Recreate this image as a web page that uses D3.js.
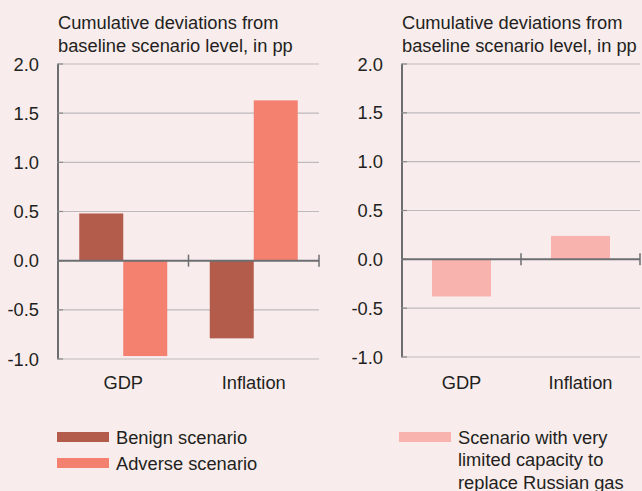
<!DOCTYPE html>
<html><head><meta charset="utf-8">
<script src="https://cdn.jsdelivr.net/npm/d3@7"></script>
<style>html,body{margin:0;padding:0;background:#f8ecec;}svg{display:block;font-family:"Liberation Sans",Arial,sans-serif;}</style>
</head><body>
<svg id="c" width="642" height="491"></svg>
<script>
const categories = ["GDP", "Inflation"];
const benign = [0.48, -0.79];
const adverse = [-0.97, 1.63];
const limitedGas = [-0.38, 0.24];
const yTicks = [-1.0, -0.5, 0.0, 0.5, 1.0, 1.5, 2.0];
const titleLines = ["Cumulative deviations from", "baseline scenario level, in pp"];
const legendLeft = ["Benign scenario", "Adverse scenario"];
const legendRight = ["Scenario with very", "limited capacity to", "replace Russian gas"];
const colors = {benign: "#b35c4c", adverse: "#f4806f", limited: "#f9b3ae"};

const svg = d3.select("#c");
const text = "#231f20";
const fs = 18.3;

function panel(opts) {
  const g = svg.append("g");
  const x = d3.scaleBand().domain(categories).range([opts.x0, opts.x1]);
  const y = d3.scaleLinear().domain([-1, 2]).range([opts.yb, opts.yt]);
  titleLines.forEach((t, i) => g.append("text").attr("x", opts.x0).attr("y", 29 + i * 23)
    .attr("font-size", fs).attr("fill", text).text(t));
  g.selectAll(".grid").data(yTicks.filter(d => d !== 0)).join("line")
    .attr("x1", opts.x0).attr("x2", opts.x1).attr("y1", d => y(d)).attr("y2", d => y(d))
    .attr("stroke", "#bdbabb").attr("stroke-width", 1.2);
  g.selectAll(".tl").data(yTicks).join("text")
    .attr("x", opts.x0 - 19).attr("y", d => y(d) + 6.5).attr("text-anchor", "end")
    .attr("font-size", fs).attr("fill", text).text(d => d3.format(".1f")(d).replace("−", "-"));
  opts.series.forEach((s, si) => {
    const sub = d3.scaleBand().domain(d3.range(opts.series.length)).range([0, opts.barW * opts.series.length]);
    g.selectAll(null).data(s.values).join("rect")
      .attr("x", (d, i) => x(categories[i]) + x.bandwidth() / 2 - opts.barW * opts.series.length / 2 + sub(si))
      .attr("width", opts.barW)
      .attr("y", d => y(Math.max(0, d)))
      .attr("height", d => Math.abs(y(d) - y(0)))
      .attr("fill", s.color);
  });
  g.append("line").attr("x1", opts.x0).attr("x2", opts.x0).attr("y1", y(2)).attr("y2", y(-1))
    .attr("stroke", "#6d6e71").attr("stroke-width", 2);
  g.selectAll(".yt").data(yTicks).join("line")
    .attr("x1", opts.x0 - 1).attr("x2", opts.x0 + 5).attr("y1", d => y(d)).attr("y2", d => y(d))
    .attr("stroke", "#8a8a8c").attr("stroke-width", 1.2);
  g.append("line").attr("x1", opts.x0).attr("x2", opts.x1).attr("y1", y(0)).attr("y2", y(0))
    .attr("stroke", "#6d6e71").attr("stroke-width", 2);
  g.selectAll(".ct").data(categories).join("line")
    .attr("x1", d => x(d) + x.bandwidth()).attr("x2", d => x(d) + x.bandwidth())
    .attr("y1", y(0) - 6).attr("y2", y(0) + 6)
    .attr("stroke", "#6d6e71").attr("stroke-width", 1.5);
  g.selectAll(".cl").data(categories).join("text")
    .attr("x", d => x(d) + x.bandwidth() / 2).attr("y", 389)
    .attr("text-anchor", "middle").attr("font-size", fs).attr("fill", text).text(d => d);
}

panel({x0: 58, x1: 319, yt: 64, yb: 359, barW: 44,
  series: [{values: benign, color: colors.benign}, {values: adverse, color: colors.adverse}]});
panel({x0: 402, x1: 640, yt: 64, yb: 357, barW: 59,
  series: [{values: limitedGas, color: colors.limited}]});

legendLeft.forEach((t, i) => {
  const c = i === 0 ? colors.benign : colors.adverse;
  svg.append("rect").attr("x", 57).attr("y", 432 + i * 26).attr("width", 52).attr("height", 10).attr("fill", c);
  svg.append("text").attr("x", 116).attr("y", 443.5 + i * 26).attr("font-size", fs).attr("fill", text).text(t);
});
svg.append("rect").attr("x", 399).attr("y", 432).attr("width", 52).attr("height", 10).attr("fill", colors.limited);
legendRight.forEach((t, i) => {
  svg.append("text").attr("x", 458).attr("y", 443.5 + i * 22.5).attr("font-size", fs).attr("fill", text).text(t);
});
</script>
</body></html>
